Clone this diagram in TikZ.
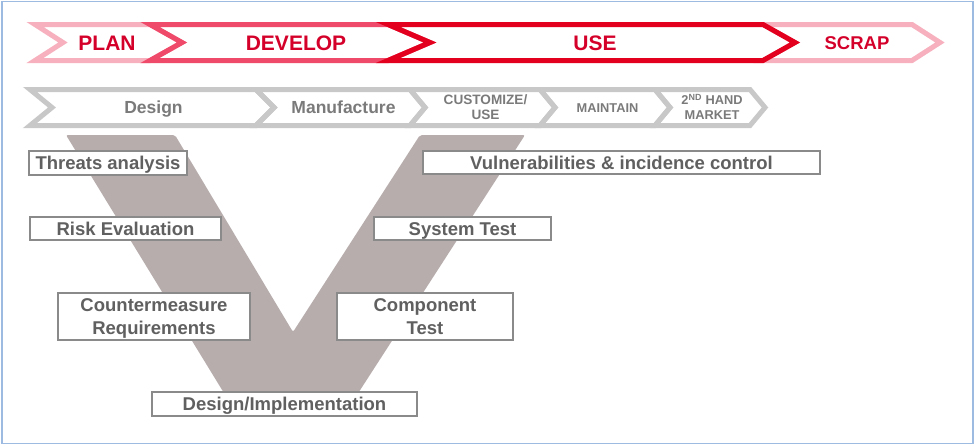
\documentclass[tikz,border=0pt]{standalone}
\usepackage{fontspec}
\setmainfont{Liberation Sans}
\definecolor{framecol}{HTML}{9DBBE0}
\definecolor{pinklt}{HTML}{F6B0BE}
\definecolor{pinkmd}{HTML}{F04A6A}
\definecolor{reddk}{HTML}{E2001E}
\definecolor{redtxt}{HTML}{D4002A}
\definecolor{chevgray}{HTML}{C8C8C8}
\definecolor{bandtxt}{HTML}{7A7A7A}
\definecolor{vcol}{HTML}{B8ADAD}
\definecolor{boxline}{HTML}{8A8A8A}
\definecolor{boxtxt}{HTML}{606060}
\begin{document}
\begin{tikzpicture}[x=1pt,y=-1pt,
  topchev/.style={line width=5pt, line join=miter},
  graychev/.style={draw=chevgray, line width=5pt, line join=miter},
  toplabel/.style={text=redtxt, font=\fontsize{21}{24}\selectfont\bfseries, inner sep=0pt, text height=15pt, text depth=0pt},
  bandlabel/.style={text=bandtxt, font=\fontsize{17.5}{20}\selectfont\bfseries, inner sep=0pt, text height=12.5pt, text depth=0pt},
  smalllabel/.style={text=bandtxt, font=\fontsize{12.8}{15}\selectfont\bfseries, inner sep=0pt, align=center, text height=9.2pt, text depth=0pt},
  twoline/.style={text height=24.2pt},
  stagebox/.style={draw=boxline, line width=1.4pt, fill=white, inner sep=0pt, text=boxtxt,
     font=\fontsize{18.5}{22.5}\selectfont\bfseries, align=center, text height=13.2pt, text depth=0pt},
  twobox/.style={text height=35.7pt}
]
\useasboundingbox (0,0) rectangle (975,447);
\draw[framecol, line width=1.3pt] (2,1.5) rectangle (973,443.5);

% ---- top band ----
\draw[topchev, draw=pinklt] (35,24.5) -- (150,24.5) -- (182,42.5) -- (150,60.5) -- (35,60.5) -- (63,42.5) -- cycle;
\draw[topchev, draw=pinklt] (763,24.5) -- (912,24.5) -- (940,42.5) -- (912,60.5) -- (763,60.5) -- (795,42.5) -- cycle;
\draw[topchev, draw=pinkmd] (150,24.5) -- (388,24.5) -- (430,42.5) -- (388,60.5) -- (150,60.5) -- (182,42.5) -- cycle;
\draw[topchev, draw=reddk] (388,24.5) -- (763,24.5) -- (795,42.5) -- (763,60.5) -- (388,60.5) -- (430,42.5) -- cycle;
\node[toplabel] (plan) at (107,42.5) {PLAN};
\node[toplabel] (develop) at (296,42.5) {DEVELOP};
\node[toplabel] (use) at (595,42.5) {USE};
\node[toplabel, font=\fontsize{18.5}{22}\selectfont\bfseries, text height=13.5pt] (scrap) at (857,43) {SCRAP};

% ---- second band ----
\draw[graychev] (30,89.5) -- (256,89.5) -- (274,107.5) -- (256,125.5) -- (30,125.5) -- (52,107.5) -- cycle;
\draw[graychev] (256,89.5) -- (410,89.5) -- (425,107.5) -- (410,125.5) -- (256,125.5) -- (274,107.5) -- cycle;
\draw[graychev] (410,89.5) -- (540,89.5) -- (555,107.5) -- (540,125.5) -- (410,125.5) -- (425,107.5) -- cycle;
\draw[graychev] (540,89.5) -- (655,89.5) -- (670,107.5) -- (655,125.5) -- (540,125.5) -- (555,107.5) -- cycle;
\draw[graychev] (655,89.5) -- (750,89.5) -- (765,107.5) -- (750,125.5) -- (655,125.5) -- (670,107.5) -- cycle;
\node[bandlabel] (design) at (153.5,107) {Design};
\node[bandlabel] (manuf) at (343.5,107) {Manufacture};
\node[smalllabel, twoline, font=\fontsize{13.6}{15}\selectfont\bfseries] (custom) at (485.5,107.5) {CUSTOMIZE/\\USE};
\node[smalllabel] (maintain) at (607.5,107.5) {MAINTAIN};
\node[smalllabel, twoline] (hand) at (712,107.5) {2\textsuperscript{ND} HAND\\MARKET};

% ---- V shape ----
\fill[vcol, rounded corners=2pt] (66,135) -- (175,135) -- (293,332) -- (420,135) -- (525,135) -- (355,398) -- (227,398) -- cycle;

% ---- boxes ----
\node[stagebox, minimum width=158pt, minimum height=24pt] (threats) at (108,163) {Threats analysis};
\node[stagebox, minimum width=191pt, minimum height=23pt] (risk) at (125.5,228.5) {Risk Evaluation};
\node[stagebox, twobox, minimum width=192pt, minimum height=47pt] (counter) at (154,316.5) {Countermeasure\\Requirements};
\node[stagebox, minimum width=265pt, minimum height=24pt] (impl) at (284.5,404) {Design/Implementation};
\node[stagebox, minimum width=397pt, minimum height=23pt] (vuln) at (621.5,162.5) {Vulnerabilities \& incidence control};
\node[stagebox, minimum width=177pt, minimum height=23pt] (system) at (462.5,228.5) {System Test};
\node[stagebox, twobox, minimum width=176pt, minimum height=47pt] (component) at (425,316.5) {Component\\Test};
\end{tikzpicture}
\end{document}
